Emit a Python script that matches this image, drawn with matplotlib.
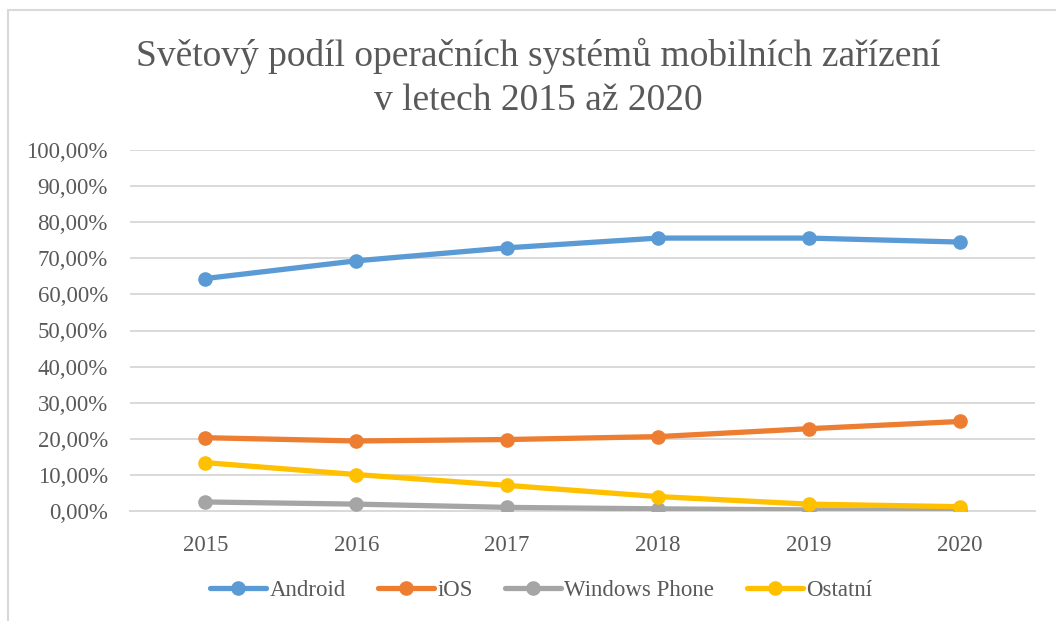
import matplotlib
matplotlib.use('Agg')
import matplotlib.pyplot as plt
from matplotlib.lines import Line2D
from matplotlib.ticker import FuncFormatter

# data
years = ['2015', '2016', '2017', '2018', '2019', '2020']
android = [64.4, 69.3, 72.9, 75.6, 75.6, 74.5]
ios = [20.3, 19.4, 19.8, 20.6, 22.8, 24.8]
windows_phone = [2.5, 1.9, 1.0, 0.6, 0.3, 0.2]
ostatni = [13.4, 10.1, 7.1, 4.0, 1.9, 1.2]

series = [('Android', android, '#5B9BD5'),
          ('iOS', ios, '#ED7D31'),
          ('Windows Phone', windows_phone, '#A5A5A5'),
          ('Ostatní', ostatni, '#FFC000')]

plt.rcParams['font.family'] = ['Liberation Serif', 'DejaVu Serif']

fig = plt.figure(figsize=(10.56, 6.21), dpi=100)
ax = fig.add_axes((130 / 1056, 1 - 511 / 621, 905 / 1056, 361 / 621))

x = list(range(len(years)))
for name, vals, col in series:
    ax.plot(x, vals, color=col, lw=3.8, marker='o', markersize=9.5,
            label=name, solid_capstyle='round', zorder=3)

ax.set_xlim(-0.5, len(years) - 0.5)
ax.set_ylim(0, 100)
ax.set_yticks(range(0, 101, 10))
ax.yaxis.set_major_formatter(FuncFormatter(lambda v, p: '{:.2f}%'.format(v).replace('.', ',')))
ax.set_xticks(x)
ax.set_xticklabels(years)
ax.grid(axis='y', color='#D9D9D9', lw=1.4, zorder=0)
ax.tick_params(axis='both', length=0, labelsize=16.5, labelcolor='#595959')
ax.tick_params(axis='y', pad=16)
ax.tick_params(axis='x', pad=17)
for s in ['top', 'right', 'left']:
    ax.spines[s].set_visible(False)
ax.spines['bottom'].set_color('#D9D9D9')
ax.spines['bottom'].set_linewidth(1.4)

fig.text(0.51, 1 - 78 / 621, 'Světový podíl operačních systémů mobilních zařízení\nv letech 2015 až 2020',
         ha='center', va='center', fontsize=27, color='#595959', linespacing=1.33)

leg = fig.legend(loc='center', bbox_to_anchor=(541 / 1056, 1 - 590 / 621), ncol=4, frameon=False,
                 fontsize=16.5, handlelength=2.45, columnspacing=1.42, handletextpad=0.13)
for t in leg.get_texts():
    t.set_color('#595959')

# outer border
fig.add_artist(Line2D([8 / 1056, 8 / 1056], [0, 1 - 10 / 621], color='#D9D9D9', lw=1.5))
fig.add_artist(Line2D([8 / 1056, 1], [1 - 10 / 621, 1 - 10 / 621], color='#D9D9D9', lw=1.5))

fig.savefig('out.png', dpi=100, facecolor='white')
